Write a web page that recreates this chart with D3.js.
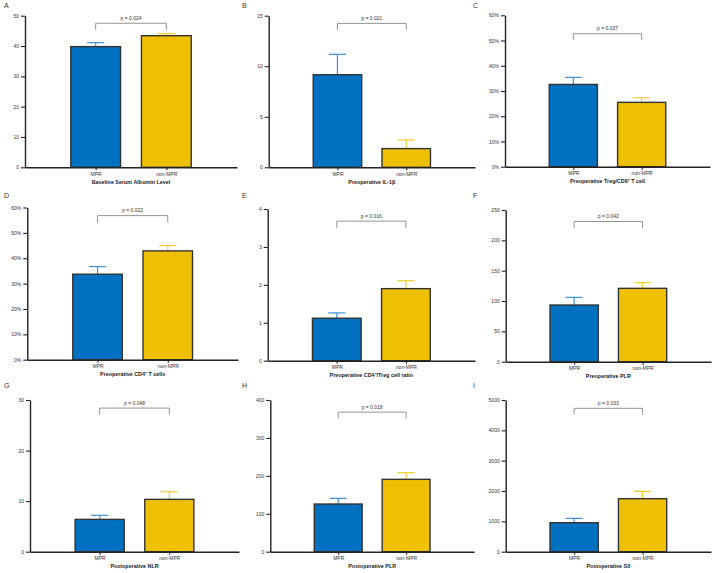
<!DOCTYPE html>
<html><head><meta charset="utf-8">
<script src="https://cdn.jsdelivr.net/npm/d3@7"></script>
<style>body{margin:0;background:#fff}svg{display:block}</style>
</head><body>
<svg id="chart" width="716" height="573"></svg>
<script>
// ---- data ----
const panelLetters = ["A","B","C","D","E","F","G","H","I"];
const categories = ["MPR","non-MPR"];
const titles = [
  "Baseline Serum Albumin Level",
  "Preoperative IL-1β",
  "Preoperative Treg/CD8⁺ T cell",
  "Preoperative CD4⁺ T cells",
  "Preoperative CD4⁺/Treg cell ratio",
  "Preoperative PLR",
  "Postoperative NLR",
  "Postoperative PLR",
  "Postoperative SII"
];
const mprMeans    = [39.8, 9.16, 32.6, 33.7, 1.12, 93.4, 6.39, 125.7, 956];
const mprErrors   = [1.3,  2.02, 2.8,  3.0,  0.14, 12.6, 0.8,  15,    143];
const nonMprMeans = [43.4, 1.85, 25.5, 42.9, 1.9,  120.9, 10.35, 190.8, 1747];
const nonMprErrors= [0.7,  0.85, 1.8,  2.1,  0.21, 9.3,  1.52, 17.6,  242];
const yMaxes      = [50, 15, 60, 60, 4, 250, 30, 400, 5000];
const yTickSteps  = [10, 5, 10, 10, 1, 50, 10, 100, 1000];
const percentAxis = [false,false,true,true,false,false,false,false,false];
const pLabels = ["p = 0.024","p = 0.021","p = 0.037","p = 0.022","p = 0.016","p = 0.042","p = 0.048","p = 0.018","p = 0.033"];
const bracketTops = [47.5, 14.24, 52.7, 56.8, 3.68, 231, 28.4, 368, 4725];
const bracketLegs = [45.3, 13.6, 50.2, 54.1, 3.5, 220.9, 27.1, 350.8, 4516];

// ---- layout ----
const axisLefts  = [25, 268.7, 505, 27.3, 267.7, 505.7, 30, 270.3, 505.7];
const axisRights = [237, 475, 710, 238, 475, 711, 239, 474, 711];
const axisTops   = [15.7, 15.7, 15.3, 207.5, 209, 210, 400, 400, 400];
const axisBottoms= [167.3, 167.3, 166.7, 359.7, 360.7, 361.7, 551.7, 551.7, 551.7];
const letterX = [4, 242, 473];
const letterY = [7.5, 198, 388];

const barFill = ["#0070C0", "#EEC000"];
const errColor = ["#3F8FDB", "#F6CB2F"];
const font = "Arial, 'Liberation Sans', Helvetica, sans-serif";

const svg = d3.select("#chart");

panelLetters.forEach((L, i) => {
  const col = i % 3, row = Math.floor(i / 3);
  const g = svg.append("g");
  const left = axisLefts[i], right = axisRights[i], top = axisTops[i], bottom = axisBottoms[i];

  g.append("text").attr("x", letterX[col]).attr("y", letterY[row])
    .attr("font-family", font).attr("font-size", 7).attr("fill", "#333").text(L);

  const x = d3.scalePoint().domain(categories).range([left, right]).padding(1);
  const y = d3.scaleLinear().domain([0, yMaxes[i]]).range([bottom, top]);
  const bw = (right - left) * 0.235;

  const means = [mprMeans[i], nonMprMeans[i]];
  const errs = [mprErrors[i], nonMprErrors[i]];

  categories.forEach((c, k) => {
    const cx = x(c);
    g.append("line").attr("x1", cx).attr("x2", cx)
      .attr("y1", y(means[k])).attr("y2", y(means[k] + errs[k]))
      .attr("stroke", errColor[k]).attr("stroke-width", 1.2);
    g.append("line").attr("x1", cx - 8.5).attr("x2", cx + 8.5)
      .attr("y1", y(means[k] + errs[k])).attr("y2", y(means[k] + errs[k]))
      .attr("stroke", errColor[k]).attr("stroke-width", 1.2);
  });

  g.selectAll("rect.bar").data(categories).join("rect")
    .attr("class", "bar")
    .attr("x", c => x(c) - bw / 2)
    .attr("y", (c, k) => y(means[k]))
    .attr("width", bw)
    .attr("height", (c, k) => y(0) - y(means[k]))
    .attr("fill", (c, k) => barFill[k])
    .attr("stroke", "#333").attr("stroke-width", 1.4);

  const ticks = d3.range(0, yMaxes[i] + yTickSteps[i] / 2, yTickSteps[i]);
  const ya = g.append("g").attr("transform", `translate(${left},0)`)
    .call(d3.axisLeft(y).tickValues(ticks).tickSize(4).tickSizeOuter(0).tickPadding(2)
      .tickFormat(d => percentAxis[i] ? d + "%" : d));
  ya.select(".domain").attr("stroke", "#222").attr("stroke-width", 1.4);
  ya.selectAll(".tick line").attr("stroke", "#222").attr("stroke-width", 1.1);
  ya.selectAll(".tick text").attr("font-family", font).attr("font-size", 5).attr("fill", "#333");

  const xa = g.append("g").attr("transform", `translate(0,${bottom})`)
    .call(d3.axisBottom(x).tickSize(3).tickSizeOuter(0).tickPadding(2));
  xa.select(".domain").attr("stroke", "#222").attr("stroke-width", 1.4);
  xa.selectAll(".tick line").attr("stroke", "#222").attr("stroke-width", 1.1);
  xa.selectAll(".tick text").attr("font-family", font).attr("font-size", 5).attr("fill", "#333");

  g.append("text").attr("x", (x(categories[0]) + x(categories[1])) / 2).attr("y", bottom + 16.5)
    .attr("text-anchor", "middle").attr("font-family", font).attr("font-size", 5.4)
    .attr("font-weight", "bold").attr("fill", "#222").text(titles[i]);

  const x1 = x(categories[0]), x2 = x(categories[1]);
  g.append("path")
    .attr("d", `M${x1},${y(bracketLegs[i])}V${y(bracketTops[i])}H${x2}V${y(bracketLegs[i])}`)
    .attr("fill", "none").attr("stroke", "#888").attr("stroke-width", 0.9);
  g.append("text").attr("x", (x1 + x2) / 2).attr("y", y(bracketTops[i]) - 3.5)
    .attr("text-anchor", "middle").attr("font-family", font).attr("font-size", 5)
    .attr("fill", "#333").text(pLabels[i]);
});
</script>
</body></html>
